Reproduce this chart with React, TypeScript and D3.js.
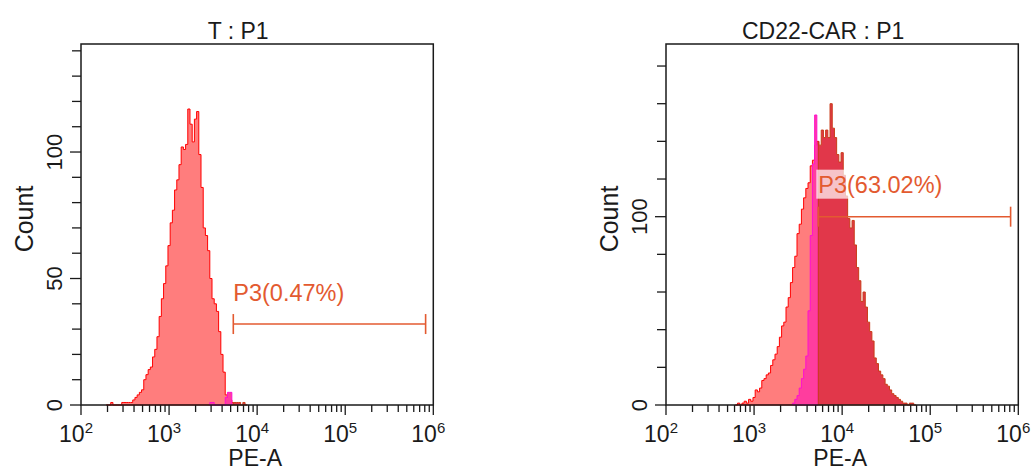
import React from 'react';
import * as d3 from 'd3';

// histogram bins are centred on log10 values: start + i * BIN_STEP
const BIN_STEP = 0.025;

const leftTitle = 'T : P1';
const leftStart = 2.3;
const leftCounts = [
  0, 0, 1, 0, 0, 0, 0, 1, 1, 1, 1, 1, 2, 3, 4, 5, 6, 10, 12, 14,
  15, 19, 22, 27, 35, 42, 48, 55, 63, 72, 77, 85, 89, 95, 102, 101, 103, 117, 111, 104,
  113, 116, 99, 86, 70, 67, 61, 50, 42, 40, 37, 29, 20, 13, 4, 2, 2, 1, 1, 1,
  1, 0, 1, 0,
];
const leftMagentaStart = 3.475;
const leftMagenta = [1, 1, 0, 0, 0, 0, 0, 3, 5, 5];
const leftYMax = 142.7;
const leftYTicks = [0, 10, 20, 30, 40, 50, 60, 70, 80, 90, 100, 110, 120, 130, 140];
const leftYLabels = [0, 50, 100];
const leftGateCount = 32;
const leftGateLabel = 'P3(0.47%)';

const rightTitle = 'CD22-CAR : P1';
const rightStart = 2.8;
const rightCounts = [
  0, 1, 0, 1, 2, 1, 3, 2, 4, 8, 7, 9, 13, 14, 16, 17, 21, 24, 27, 31,
  36, 42, 44, 52, 57, 65, 73, 79, 91, 96, 104, 110, 115, 118, 127, 130, 138, 140, 138, 146,
  142, 146, 142, 160, 147, 142, 133, 129, 134, 122, 111, 99, 94, 98, 85, 73, 66, 55, 60, 52,
  44, 39, 34, 25, 22, 18, 16, 14, 11, 10, 8, 6, 5, 4, 3, 2, 1, 1, 0, 1,
  1, 0,
];
const rightMagentaStart = 3.45;
const rightMagenta = [1, 3, 5, 9, 14, 19, 26, 50, 90, 128, 154, 138];
const rightYMax = 191.7;
const rightYTicks = [0, 20, 40, 60, 80, 100, 120, 140, 160, 180];
const rightYLabels = [0, 100];
const rightGateCount = 100;
const rightGateLabel = 'P3(63.02%)';

// P3 gate, PE-A range
const gateFrom = 5360;
const gateTo = 818000;

const decades = [2, 3, 4, 5, 6];
const xTickValues = decades.flatMap(d => (d === 6 ? [1e6] : d3.range(1, 10).map(k => k * 10 ** d)));

const FONT = '"Liberation Sans", Arial, sans-serif';
const INK = '#1a1a1a';
const GATE = '#e35a30';

const TOP = 44;
const BOTTOM = 405;
const WIDTH = 352.3;

function stepPath(counts, start, lo, hi, x, y) {
  const first = start - BIN_STEP / 2;
  const last = start + (counts.length - 0.5) * BIN_STEP;
  const a0 = Math.max(lo, first);
  const b0 = Math.min(hi, last);
  if (b0 <= a0) return '';
  let d = `M${x(10 ** a0)},${y(0)}`;
  counts.forEach((c, i) => {
    const a = Math.max(start + (i - 0.5) * BIN_STEP, a0);
    const b = Math.min(start + (i + 0.5) * BIN_STEP, b0);
    if (b <= a) return;
    d += `L${x(10 ** a)},${y(c)}L${x(10 ** b)},${y(c)}`;
  });
  d += `L${x(10 ** b0)},${y(0)}Z`;
  return d;
}

function Panel({ left, title, counts, start, magenta, magentaStart, yMax, yTicks, yLabels, gateCount, gateLabel }) {
  const x = d3.scaleLog().domain([100, 1e6]).range([left, left + WIDTH]);
  const y = d3.scaleLinear().domain([0, yMax]).range([BOTTOM, TOP]);
  const gLo = Math.log10(gateFrom);
  const gy = y(gateCount);
  const gx0 = x(gateFrom);
  const gx1 = x(gateTo);
  const labelW = gateLabel.length * 12.3;

  return (
    <g>
      <text x={left + WIDTH / 2 - 19} y={39} textAnchor="middle" fontSize={23} fill={INK}>{title}</text>

      {/* histogram layers */}
      <path d={stepPath(counts, start, 0, gLo, x, y)} fill="#ff7d7d" stroke="#ff0000" strokeWidth={1} />
      <path d={stepPath(magenta, magentaStart, 0, gLo, x, y)} fill="#ff3d9e" stroke="#ff10d0" strokeWidth={1} />
      <path d={stepPath(counts, start, gLo, 9, x, y)} fill="#e1374a" stroke="#c93c18" strokeWidth={1} />

      {/* gate */}
      <rect x={gx0 - 2} y={gy - 47} width={labelW} height={29} fill="#ffffff" fillOpacity={0.7} />
      <text x={gx0} y={gy - 23.5} fontSize={23.5} fill={GATE}>{gateLabel}</text>
      <line x1={gx0} x2={gx1} y1={gy} y2={gy} stroke={GATE} strokeWidth={1.6} />
      <line x1={gx0} x2={gx0} y1={gy - 10} y2={gy + 10} stroke={GATE} strokeWidth={1.6} />
      <line x1={gx1} x2={gx1} y1={gy - 10} y2={gy + 10} stroke={GATE} strokeWidth={1.6} />

      {/* frame */}
      <rect x={left} y={TOP} width={WIDTH} height={BOTTOM - TOP} fill="none" stroke={INK} strokeWidth={1.5} />

      {/* y axis */}
      {yTicks.map(t => (
        <line key={t} x1={left - (yLabels.includes(t) ? 11 : 9)} x2={left} y1={y(t)} y2={y(t)} stroke={INK} strokeWidth={1.3} />
      ))}
      {yLabels.map(t => (
        <text key={t} transform={`translate(${left - 19},${y(t)}) rotate(-90)`} textAnchor="middle" fontSize={22} fill={INK}>{t}</text>
      ))}
      <text transform={`translate(${left - 48},219) rotate(-90)`} textAnchor="middle" fontSize={25} fill={INK}>Count</text>

      {/* x axis */}
      {xTickValues.map(t => {
        const major = Math.abs(Math.log10(t) % 1) < 1e-9;
        return <line key={t} x1={x(t)} x2={x(t)} y1={BOTTOM} y2={BOTTOM + (major ? 10 : 7)} stroke={INK} strokeWidth={1.3} />;
      })}
      {decades.map(d => (
        <text key={d} x={x(10 ** d) - 5} y={442} textAnchor="middle" fontSize={23} fill={INK}>
          10<tspan fontSize={15} dy={-9}>{d}</tspan>
        </text>
      ))}
      <text x={left + WIDTH / 2 - 2} y={466} textAnchor="middle" fontSize={23} fill={INK}>PE-A</text>
    </g>
  );
}

export default function App() {
  return (
    <svg width={1036} height={471} style={{ position: 'absolute', left: 0, top: 0, background: '#fff' }} fontFamily={FONT}>
      <rect width={1036} height={471} fill="#fff" />
      <Panel
        left={81}
        title={leftTitle}
        counts={leftCounts}
        start={leftStart}
        magenta={leftMagenta}
        magentaStart={leftMagentaStart}
        yMax={leftYMax}
        yTicks={leftYTicks}
        yLabels={leftYLabels}
        gateCount={leftGateCount}
        gateLabel={leftGateLabel}
      />
      <Panel
        left={666}
        title={rightTitle}
        counts={rightCounts}
        start={rightStart}
        magenta={rightMagenta}
        magentaStart={rightMagentaStart}
        yMax={rightYMax}
        yTicks={rightYTicks}
        yLabels={rightYLabels}
        gateCount={rightGateCount}
        gateLabel={rightGateLabel}
      />
    </svg>
  );
}
